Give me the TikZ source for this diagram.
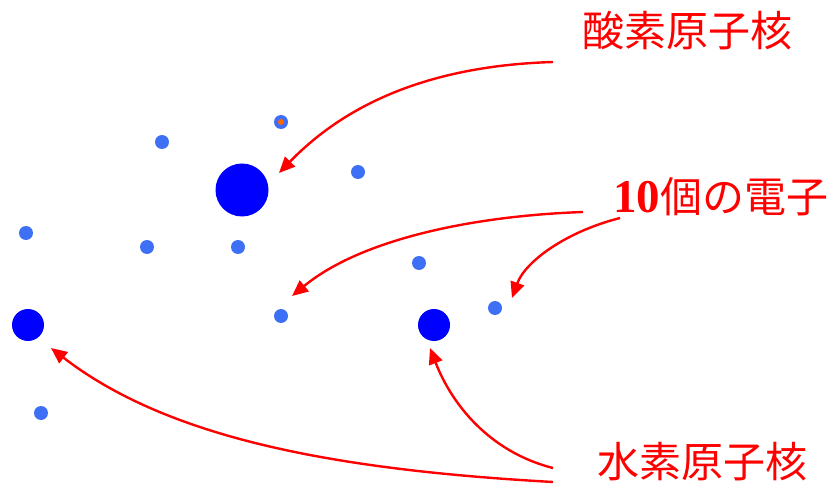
\documentclass[tikz,border=0pt]{standalone}
\usepackage{fontspec}
\newfontfamily\jpfont{Noto Sans CJK JP}
\newfontfamily\digfont{Liberation Serif}
\usetikzlibrary{arrows.meta}
\definecolor{nuc}{RGB}{0,0,255}
\definecolor{elec}{RGB}{61,112,245}
\definecolor{orng}{RGB}{255,102,0}
\definecolor{lbl}{RGB}{255,0,0}
\tikzset{
  nucleus/.style={circle,fill=nuc,inner sep=0pt,minimum size=#1},
  electron/.style={circle,fill=elec,inner sep=0pt,minimum size=14pt},
  lbltext/.style={text=lbl,font=\jpfont\fontsize{42}{50}\selectfont,inner sep=0pt,anchor=west},
  ptr/.style={draw=lbl,line width=2.4pt,-{Triangle[length=16pt,width=14pt]}}
}
\begin{document}
\begin{tikzpicture}[x=1pt,y=-1pt]
\useasboundingbox (0,0) rectangle (833,484);
% nuclei
\node[nucleus=53pt] (O) at (242,190) {};
\node[nucleus=32pt] (H1) at (28,325) {};
\node[nucleus=32pt] (H2) at (434,325) {};
% electrons
\node[electron] (e1) at (162,142) {};
\node[electron] (e2) at (281,122) {};
\node[circle,fill=orng,inner sep=0pt,minimum size=6pt] (e2c) at (e2) {};
\node[electron] (e3) at (358,172) {};
\node[electron] (e4) at (26,233) {};
\node[electron] (e5) at (147,247) {};
\node[electron] (e6) at (238,247) {};
\node[electron] (e7) at (419,263) {};
\node[electron] (e8) at (281,316) {};
\node[electron] (e9) at (495,308) {};
\node[electron] (e10) at (41,413) {};
% labels
\node[lbltext] (tO) at (582,31) {酸素原子核};
\node[lbltext] (tE) at (613,197) {{\digfont\fontsize{47}{50}\selectfont\bfseries 10}個の電子};
\node[lbltext] (tH) at (597,462) {水素原子核};
% arrow anchors
\coordinate (s1) at (553,62);
\coordinate (t1) at (279,173);
\coordinate (s2) at (583,212);
\coordinate (t2) at (292,296);
\coordinate (s3) at (620,218);
\coordinate (t3) at (512,298);
\coordinate (s4) at (553,482);
\coordinate (t4) at (51,348);
\coordinate (s5) at (553,468);
\coordinate (t5) at (430,348);
% arrows
\draw[ptr] (s1) .. controls (420,66) and (340,110) .. (t1);
\draw[ptr] (s2) .. controls (470,216) and (360,240) .. (t2);
\draw[ptr] (s3) .. controls (565,232) and (525,262) .. (t3);
\draw[ptr] (s4) .. controls (340,470) and (170,440) .. (t4);
\draw[ptr] (s5) .. controls (490,452) and (452,405) .. (t5);
\end{tikzpicture}
\end{document}
